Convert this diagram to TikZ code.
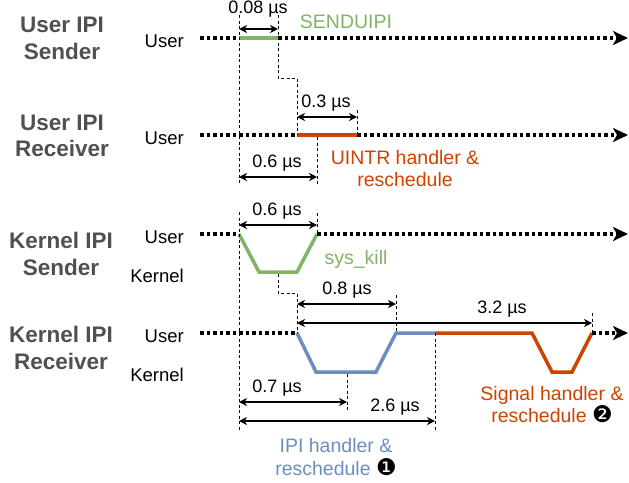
\documentclass[tikz,border=0pt]{standalone}
\usepackage{fontspec}
\setmainfont{Liberation Sans}
\newfontfamily\dingfont{DejaVu Sans}
\usepackage{tikz}
\usetikzlibrary{arrows.meta, positioning, calc}
\definecolor{IPIgreen}{HTML}{82B366}
\definecolor{IPIblue}{HTML}{6C8EBF}
\definecolor{IPIred}{HTML}{CC4400}
\definecolor{IPIgray}{HTML}{505050}
\newcommand{\circnum}[1]{{\dingfont\fontsize{23}{22}\selectfont\color{black}#1}}

\begin{document}
\begin{tikzpicture}[x=1pt, y=-1pt,
    dotline/.style={line width=3.5pt, dash pattern=on 3.5pt off 3pt},
    timeline/.style={dotline, -{Stealth[length=15pt, width=14pt, inset=4pt]}},
    phase/.style={line width=3.5pt, line join=miter},
    guide/.style={line width=0.8pt, dash pattern=on 3pt off 2.5pt},
    dim/.style={line width=1.3pt, {Stealth[length=8pt, width=8pt, inset=2.5pt]}-{Stealth[length=8pt, width=8pt, inset=2.5pt]}},
    dimlabel/.style={font=\fontsize{18}{20}\selectfont, inner sep=0pt},
    role/.style={font=\bfseries\fontsize{22.5}{26.5}\selectfont, text=IPIgray, align=center, inner sep=0pt},
    mode/.style={font=\fontsize{18.5}{22}\selectfont, anchor=east, inner sep=0pt},
    note/.style={font=\fontsize{19.5}{22}\selectfont, align=center, inner sep=0pt}]
  \useasboundingbox (0,0) rectangle (629,482);

  % row labels
  \node[role] (usnd) at (62,38.5) {User IPI\\Sender};
  \node[role] (urcv) at (62,136) {User IPI\\Receiver};
  \node[role] (ksnd) at (61,254) {Kernel IPI\\Sender};
  \node[role] (krcv) at (61,348) {Kernel IPI\\Receiver};
  \node[mode] (usu) at (184,41.5) {User};
  \node[mode] (uru) at (184,138.5) {User};
  \node[mode] (ksu) at (184,237.5) {User};
  \node[mode] (ksk) at (184,276) {Kernel};
  \node[mode] (kru) at (184,336.5) {User};
  \node[mode] (krk) at (184,375) {Kernel};

  % user IPI sender
  \coordinate (us0) at (200,38);
  \coordinate (us1) at (239,38);
  \coordinate (us2) at (278,38);
  \coordinate (us3) at (628,38);
  \draw[dotline] (us0) -- (us1);
  \draw[phase, IPIgreen] (us1) -- (us2);
  \draw[timeline] (us2) -- (us3);
  \node[note, text=IPIgreen] (senduipi) at (346,21.5) {SENDUIPI};

  % user IPI receiver
  \coordinate (ur0) at (200,135);
  \coordinate (ur1) at (297,135);
  \coordinate (urm) at (317,135);
  \coordinate (ur2) at (357,135);
  \coordinate (ur3) at (628,135);
  \draw[dotline] (ur0) -- (ur1);
  \draw[phase, IPIred] (ur1) -- (ur2);
  \draw[timeline] (ur2) -- (ur3);
  \node[note, text=IPIred] (uintr) at (405,169) {UINTR handler \&\\reschedule};

  \draw[guide] (us1) ++(0,-23) -- ++(0,170);
  \draw[guide] (us2) ++(0,-23) -- ++(0,63) -| (ur1);
  \draw[guide] (ur2) ++(0,-25) -- (ur2);
  \draw[guide] (urm) ++(0,2) -- ++(0,48);

  \draw[dim] (239,29) -- (278,29);
  \node[dimlabel] (d008) at (258,9.5) {0.08 µs};
  \draw[dim] (297,117) -- (357,117);
  \node[dimlabel] (d03) at (326,103) {0.3 µs};
  \draw[dim] (239,177) -- (317,177);
  \node[dimlabel] (d06a) at (277,163) {0.6 µs};

  % kernel IPI sender
  \coordinate (ks0) at (200,234);
  \coordinate (ks1) at (239,234);
  \coordinate (ks2) at (259,272);
  \coordinate (ksm) at (278,272);
  \coordinate (ks3) at (297,272);
  \coordinate (ks4) at (317,234);
  \coordinate (ks5) at (628,234);
  \draw[dotline] (ks0) -- (ks1);
  \draw[phase, IPIgreen] (ks1) -- (ks2) -- (ks3) -- (ks4);
  \draw[timeline] (ks4) -- (ks5);
  \node[note, text=IPIgreen] (syskill) at (356,259) {sys\_kill};

  % kernel IPI receiver
  \coordinate (kr0) at (200,333);
  \coordinate (kr1) at (297,333);
  \coordinate (kr2) at (316,372);
  \coordinate (krm) at (347,372);
  \coordinate (kr3) at (376,372);
  \coordinate (kr4) at (396,333);
  \coordinate (kr5) at (435,333);
  \coordinate (kr6) at (532,333);
  \coordinate (kr7) at (552,372);
  \coordinate (kr8) at (572,372);
  \coordinate (kr9) at (592,333);
  \coordinate (kr10) at (628,333);
  \draw[dotline] (kr0) -- (kr1);
  \draw[phase, IPIblue] (kr1) -- (kr2) -- (kr3) -- (kr4) -- (kr5);
  \draw[phase, IPIred] (kr5) -- (kr6) -- (kr7) -- (kr8) -- (kr9);
  \draw[timeline] (kr9) -- (kr10);
  \node[note, text=IPIblue] (ipih) at (336,457) {IPI handler \&\\[1pt]reschedule \circnum{❶}};
  \node[note, text=IPIred] (sigh) at (552,405) {Signal handler \&\\[0pt]reschedule \circnum{❷}};

  \draw[guide] (ks1) ++(0,-22) -- ++(0,218);
  \draw[guide] (ks4) ++(0,-21) -- (ks4);
  \draw[guide] (ksm) ++(0,2) -- ++(0,19) -| (kr1);
  \draw[guide] (kr4) ++(0,-38) -- (kr4);
  \draw[guide] (kr9) ++(0,-20) -- (kr9);
  \draw[guide] (krm) ++(0,2) -- ++(0,38);
  \draw[guide] (kr5) -- ++(0,97);

  \draw[dim] (239,225) -- (317,225);
  \node[dimlabel] (d06b) at (277,211) {0.6 µs};
  \draw[dim] (297,304) -- (396,304);
  \node[dimlabel] (d08) at (347,290) {0.8 µs};
  \draw[dim] (297,323) -- (592,323);
  \node[dimlabel] (d32) at (502,309) {3.2 µs};
  \draw[dim] (239,402) -- (347,402);
  \node[dimlabel] (d07) at (277,388) {0.7 µs};
  \draw[dim] (239,421) -- (435,421);
  \node[dimlabel] (d26) at (395,407) {2.6 µs};
\end{tikzpicture}
\end{document}
